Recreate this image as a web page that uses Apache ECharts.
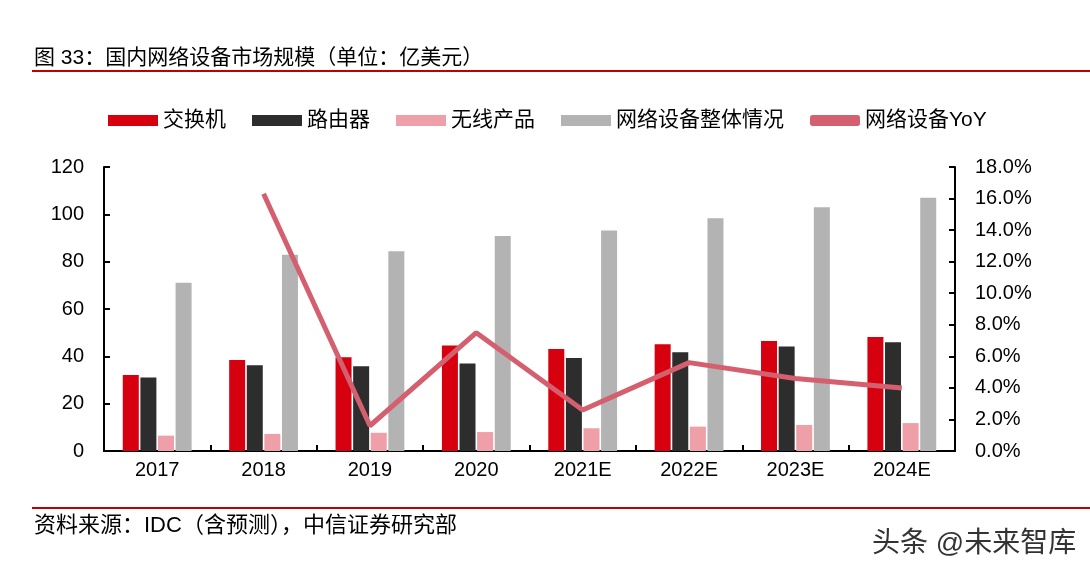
<!DOCTYPE html>
<html>
<head>
<meta charset="utf-8">
<style>
html,body{margin:0;padding:0;background:#fff;}
#chart{width:1090px;height:574px;}
</style>
<script src="https://cdn.jsdelivr.net/npm/echarts@6/dist/echarts.min.js"></script>
</head>
<body>
<div id="chart"></div>
<script>
var categories = ['2017','2018','2019','2020','2021E','2022E','2023E','2024E'];
var switches = [32.1, 38.4, 39.6, 44.6, 43.1, 45.1, 46.5, 48.2];
var routers = [31.1, 36.2, 35.8, 37.0, 39.3, 41.7, 44.2, 45.9];
var wireless = [6.5, 7.2, 7.7, 8.0, 9.6, 10.3, 11.0, 11.8];
var total = [71.1, 82.9, 84.4, 90.8, 93.2, 98.3, 103.0, 107.0];
var yoy = [null, 16.3, 1.6, 7.5, 2.6, 5.6, 4.6, 4.0];
var leftTicks = {min: 0, max: 120, interval: 20};
var rightTicks = {min: 0, max: 18, interval: 2};

var FONT = '"Liberation Sans", Arial, "Noto Sans CJK SC", sans-serif';
var chart = echarts.init(document.getElementById('chart'));
var axisLine = {show: true, lineStyle: {color: '#000', width: 2}};
var axisTick = {show: true, inside: true, length: 6, lineStyle: {color: '#000', width: 2}};
var option = {
  backgroundColor: '#fff',
  animation: false,
  textStyle: {fontFamily: FONT},
  grid: {left: 104, right: 135, top: 167, bottom: 123, containLabel: false},
  legend: {
    left: 103, top: 105, itemWidth: 50, itemHeight: 11, itemGap: 26,
    textStyle: {fontSize: 21, color: '#000', fontFamily: FONT},
    data: [
      {name: '交换机', icon: 'rect'},
      {name: '路由器', icon: 'rect'},
      {name: '无线产品', icon: 'rect'},
      {name: '网络设备整体情况', icon: 'rect'},
      {name: '网络设备YoY', icon: 'roundRect'}
    ]
  },
  xAxis: {
    type: 'category', data: categories,
    axisLine: axisLine, axisTick: axisTick,
    axisLabel: {fontSize: 20, color: '#000', margin: 9, fontFamily: FONT}
  },
  yAxis: [
    {type: 'value', min: leftTicks.min, max: leftTicks.max, interval: leftTicks.interval,
     splitLine: {show: false}, axisLine: axisLine, axisTick: axisTick,
     axisLabel: {fontSize: 20, color: '#000', margin: 20, fontFamily: FONT}},
    {type: 'value', min: rightTicks.min, max: rightTicks.max, interval: rightTicks.interval,
     position: 'right', splitLine: {show: false}, axisLine: axisLine, axisTick: axisTick,
     axisLabel: {fontSize: 20, color: '#000', margin: 20, fontFamily: FONT,
       formatter: function(v){ return v.toFixed(1) + '%'; }}}
  ],
  series: [
    {name: '交换机', type: 'bar', data: switches, barWidth: 16, barGap: '10%', itemStyle: {color: '#D7000F'}},
    {name: '路由器', type: 'bar', data: routers, barWidth: 16, barGap: '10%', itemStyle: {color: '#2D2D2D'}},
    {name: '无线产品', type: 'bar', data: wireless, barWidth: 16, barGap: '10%', itemStyle: {color: '#EF9FA8'}},
    {name: '网络设备整体情况', type: 'bar', data: total, barWidth: 16, barGap: '10%', itemStyle: {color: '#B3B3B3'}},
    {name: '网络设备YoY', type: 'line', yAxisIndex: 1, data: yoy, symbol: 'none', z: 5,
     lineStyle: {color: '#D45F6F', width: 5}, itemStyle: {color: '#D45F6F'}}
  ],
  graphic: [
    {type: 'text', left: 34, top: 48, style: {text: '图 33：国内网络设备市场规模（单位：亿美元）', fontSize: 21, fill: '#000', fontFamily: FONT}},
    {type: 'rect', shape: {x: 32, y: 70, width: 1058, height: 2}, style: {fill: '#C00000'}},
    {type: 'rect', shape: {x: 32, y: 507, width: 1058, height: 2}, style: {fill: '#C00000'}},
    {type: 'text', left: 34, top: 515, style: {text: '资料来源：IDC（含预测），中信证券研究部', fontSize: 22, fill: '#000', fontFamily: FONT}},
    {type: 'text', left: 872, top: 530, style: {text: '头条 @未来智库', fontSize: 28, fill: '#333', fontFamily: FONT}}
  ]
};
chart.setOption(option);
</script>
</body>
</html>
